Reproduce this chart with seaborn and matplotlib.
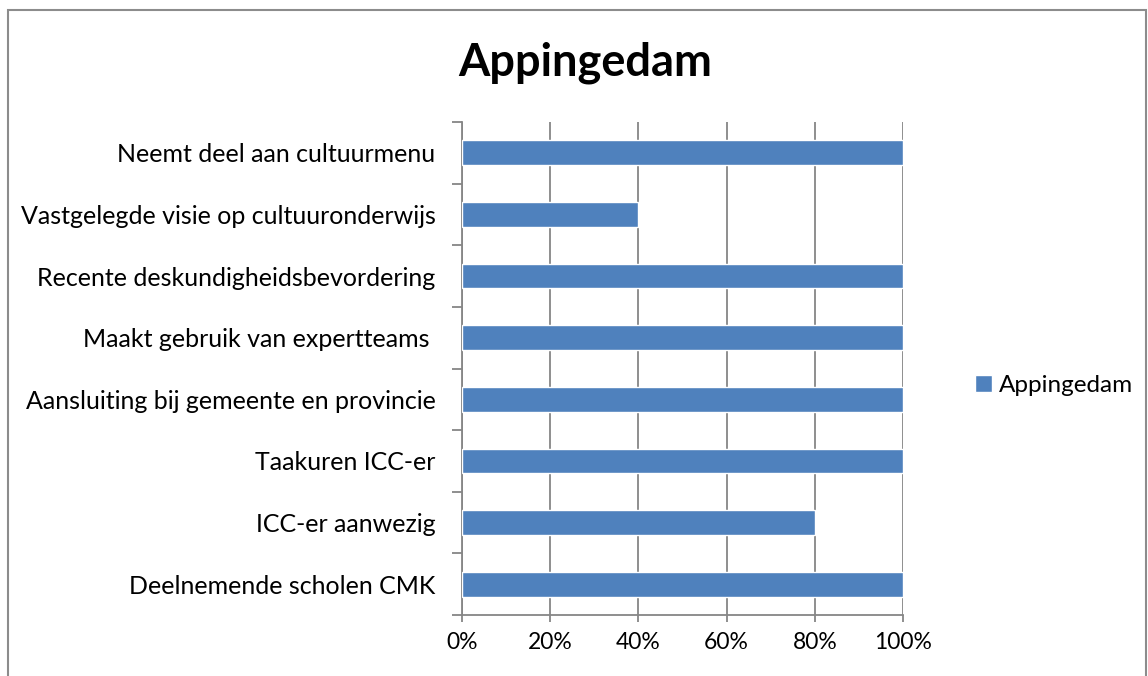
import numpy as np
import pandas as pd
import seaborn as sns
import matplotlib.pyplot as plt
from matplotlib.patches import Rectangle
from matplotlib.ticker import FixedLocator, PercentFormatter

# data, top to bottom as in the chart
categories = [
    "Neemt deel aan cultuurmenu",
    "Vastgelegde visie op cultuuronderwijs",
    "Recente deskundigheidsbevordering",
    "Maakt gebruik van expertteams ",
    "Aansluiting bij gemeente en provincie",
    "Taakuren ICC-er",
    "ICC-er aanwezig",
    "Deelnemende scholen CMK",
]
values = [100, 40, 100, 100, 100, 100, 80, 100]
series_name = "Appingedam"
x_ticks = [0, 20, 40, 60, 80, 100]

df = pd.DataFrame({"categorie": categories, "waarde": values})

sns.set_style("white")
plt.rcParams["font.family"] = ["Lato", "DejaVu Sans"]
plt.rcParams["text.color"] = "black"

fig = plt.figure(figsize=(11.48, 6.76), dpi=100)
ax = fig.add_axes([462 / 1148, 1 - 615 / 676, (903 - 462) / 1148, (615 - 122) / 676])

grey = "#868686"
sns.barplot(data=df, x="waarde", y="categorie", orient="h", color="#4F81BD",
            saturation=1, width=0.4, label=series_name, ax=ax, zorder=3)

ax.set_xlim(0, 100)
ax.set_ylim(len(categories) - 0.5, -0.5)
ax.set_xlabel("")
ax.set_ylabel("")

ax.xaxis.set_major_locator(FixedLocator(x_ticks))
ax.xaxis.set_major_formatter(PercentFormatter(decimals=0))
ax.grid(axis="x", color=grey, linewidth=1.3, zorder=0)
ax.tick_params(axis="x", direction="out", length=5, width=1.3, color=grey,
               labelsize=16.5, labelcolor="black", pad=7, bottom=True)

ax.yaxis.set_minor_locator(FixedLocator(np.arange(-0.5, len(categories), 1)))
ax.tick_params(axis="y", which="major", length=0, pad=19, labelsize=18,
               labelcolor="black", left=True)
ax.tick_params(axis="y", which="minor", direction="out", length=7, width=1.3,
               color=grey, left=True)

sns.despine(ax=ax, top=True, right=True)
for side in ["left", "bottom"]:
    ax.spines[side].set_color(grey)
    ax.spines[side].set_linewidth(1.3)

leg = ax.legend(loc="center left", frameon=False,
                fontsize=17.5, handlelength=0.7, handleheight=0.7, handletextpad=0.3,
                borderaxespad=0, borderpad=0)
leg.set_bbox_to_anchor((1 + (975 - 903) / 441, 0.465), transform=ax.transAxes)

fig.text(0.51, 1 - 63 / 676, "Appingedam", ha="center", va="center",
         fontsize=32.5, fontweight="bold", color="black")

# chart border like the Excel chart area
fig.patches.append(Rectangle((8 / 1148, -0.1), (1146 - 8) / 1148, 1.1 - 10 / 676,
                             transform=fig.transFigure, fill=False,
                             edgecolor="#8c8c8c", linewidth=1.5))

fig.savefig("out.png", dpi=100)
